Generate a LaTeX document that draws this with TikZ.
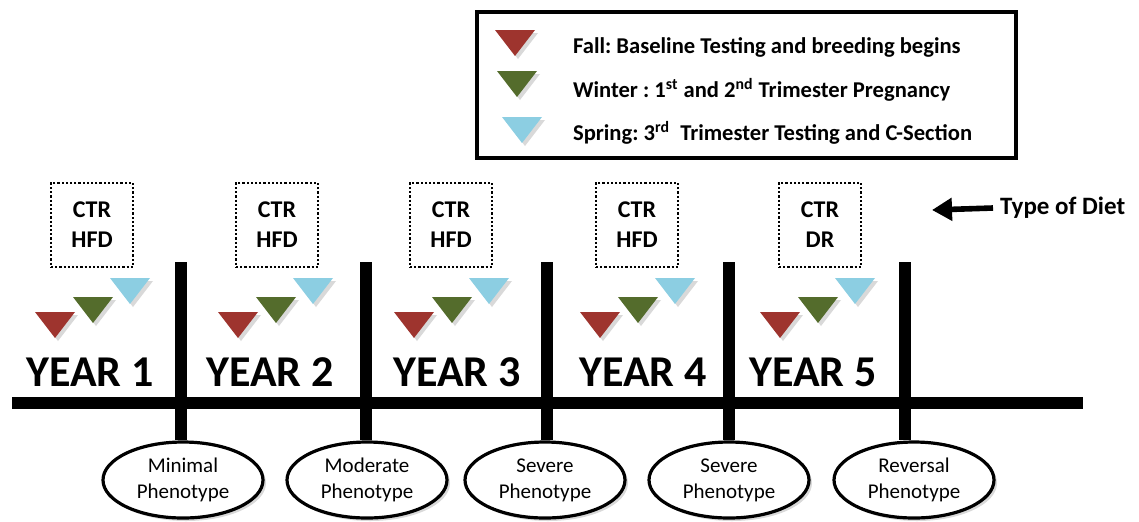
\documentclass[tikz,border=0pt]{standalone}
\usepackage{fontspec}
\setmainfont{Carlito}
\usetikzlibrary{arrows.meta,shapes.geometric,shadows}

\definecolor{fallred}{RGB}{158,52,46}
\definecolor{wintergreen}{RGB}{84,108,44}
\definecolor{springblue}{RGB}{140,206,226}

% one season marker (colour, centre x, top y)
\newcommand{\seasontri}[3]{%
  \fill[#1,season] (#2,#3) ++(-20,0) -- ++(40,0) -- ++(-20,26) -- cycle;}

\frenchspacing

\begin{document}
\begin{tikzpicture}[x=0.5pt,y=-0.5pt,
  bar/.style={line width=6pt},
  season/.style={drop shadow={opacity=0.3,shadow xshift=1.5pt,shadow yshift=-1.5pt}},
  dietbox/.style={draw,densely dotted,line width=1.1pt,minimum width=41pt,minimum height=42pt,
    align=center,font=\bfseries\fontsize{12}{15}\selectfont},
  phenbox/.style={draw,ellipse,line width=1.6pt,fill=white,minimum width=80pt,minimum height=38pt,
    inner sep=0pt,align=center,font=\fontsize{10.5}{13}\selectfont,
    drop shadow={opacity=0.3,shadow xshift=1.5pt,shadow yshift=-1.5pt}},
  yearlbl/.style={font=\bfseries\fontsize{22}{26}\selectfont},
  legtxt/.style={anchor=west,font=\bfseries\fontsize{11.3}{13}\selectfont}]

\useasboundingbox (0,0) rectangle (1139,521);

%-------------------------------------------------------------------
% Legend
\draw[line width=2pt] (477,12) rectangle (1016,158);
\seasontri{fallred}{515}{30}
\seasontri{wintergreen}{517}{71}
\seasontri{springblue}{522}{117}
\node[legtxt] (leg1) at (566,47) {Fall: Baseline Testing and breeding begins};
\node[legtxt] (leg2) at (566,90) {Winter : 1\textsuperscript{st} and 2\textsuperscript{nd} Trimester Pregnancy};
\node[legtxt] (leg3) at (566,133) {Spring: 3\textsuperscript{rd}\ \ Trimester Testing and C-Section};

%-------------------------------------------------------------------
% Timeline
\coordinate (tstart) at (12,403);
\coordinate (tend) at (1083,403);
\draw[bar] (tstart) -- (tend);

% year / diet box / label / bar / phenotype
\foreach \i/\rx/\bx/\lx/\vx/\ex/\diet/\phen in {
  1/55/92/90/181/183/{CTR\\HFD}/{Minimal\\Phenotype},
  2/238/277/270/366/367/{CTR\\HFD}/{Moderate\\Phenotype},
  3/414/451/457/547/545/{CTR\\HFD}/{Severe\\Phenotype},
  4/600/637/643/729/729/{CTR\\HFD}/{Severe\\Phenotype},
  5/780/820/813/905/914/{CTR\\DR}/{Reversal\\Phenotype}}{
    \node[dietbox] (diet\i) at (\bx,225) {\diet};
    \node[yearlbl] (yr\i) at (\lx,372) {YEAR \i};
    \node[phenbox] (ph\i) at (\ex,480) {\phen};
    \coordinate (top\i) at (\vx,262);
    \draw[bar] (top\i) -- (top\i |- ph\i.north);
    \seasontri{fallred}{\rx}{312}
    \pgfmathsetmacro{\gx}{\rx+38}
    \pgfmathsetmacro{\sx}{\rx+75}
    \seasontri{wintergreen}{\gx}{297}
    \seasontri{springblue}{\sx}{278}
}

%-------------------------------------------------------------------
% Diet pointer
\node[anchor=west,font=\bfseries\fontsize{12.5}{15}\selectfont] (dietlbl) at (993,208) {Type of Diet};
\coordinate (dietarr) at (932,210);
\draw[line width=2.8pt,-{Triangle[length=10pt,width=11pt]}] (dietlbl.west) -- (dietarr);

\end{tikzpicture}
\end{document}
